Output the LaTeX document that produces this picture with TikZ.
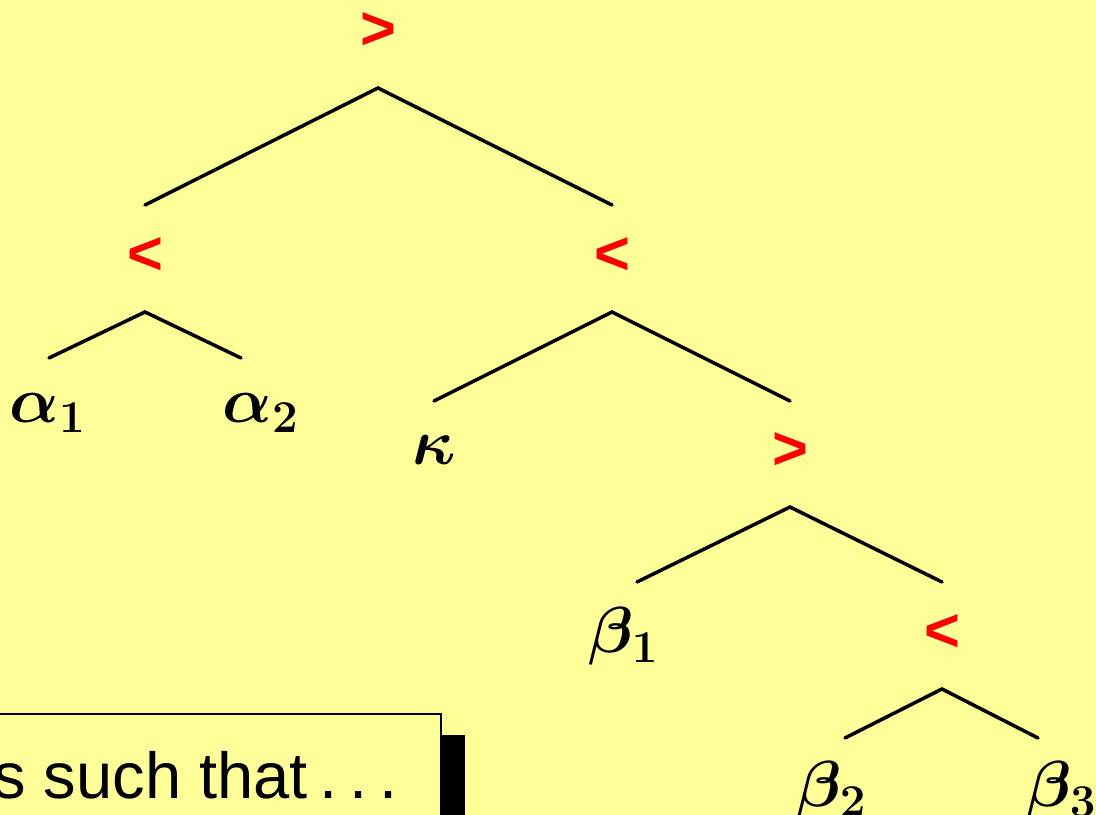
\documentclass[tikz,border=0pt]{standalone}
\usepackage{fix-cm}
\usepackage[no-math]{fontspec}
\setmainfont{Liberation Sans}
\usepackage{amsmath}
\usetikzlibrary{positioning}
\definecolor{SlideYellow}{HTML}{FFFF99}
\definecolor{OpRed}{HTML}{FF0000}

\begin{document}
\begin{tikzpicture}[
    x=0.01cm, y=-0.01cm,
    op/.style={
      text=OpRed,
      font=\fontsize{17.5}{20}\selectfont\bfseries,
      inner sep=0pt
    },
    leaf/.style={
      font=\fontsize{18.5}{22}\selectfont\boldmath,
      inner sep=0pt
    },
    branch/.style={
      line width=1pt,
      line cap=round
    }
  ]

  % Slide background
  \fill[SlideYellow] (0,0) rectangle (1096,815);
  \useasboundingbox (0,0) rectangle (1096,815);
  \clip (0,0) rectangle (1096,815);

  % Comparison operators
  \node[op] (root)  at (378,31)  {>};
  \node[op] (left)  at (145,256) {<};
  \node[op] (right) at (612,256) {<};
  \node[op] (mid)   at (790,451) {>};
  \node[op] (low)   at (942,633) {<};

  % Apexes below the operators
  \coordinate (rootT)  at (378,88);
  \coordinate (leftT)  at (145,312);
  \coordinate (rightT) at (612,312);
  \coordinate (midT)   at (790,507);
  \coordinate (lowT)   at (942,689);

  % Branch ends above the children
  \coordinate (rootL)  at (145,205);
  \coordinate (rootR)  at (612,205);
  \coordinate (leftL)  at (49,358);
  \coordinate (leftR)  at (241,358);
  \coordinate (rightL) at (434,401);
  \coordinate (rightR) at (790,401);
  \coordinate (midL)   at (637,582);
  \coordinate (midR)   at (942,582);
  \coordinate (lowL)   at (845,738);
  \coordinate (lowR)   at (1038,738);

  % Leaves
  \node[leaf] (a1)  at (48,413)   {$\alpha_{\mathbf{1}}$};
  \node[leaf] (a2)  at (261,413)  {$\alpha_{\mathbf{2}}$};
  \node[leaf] (kap) at (434,450)  {$\kappa$};
  \node[leaf] (b1)  at (624,636)  {$\beta_{\mathbf{1}}$};
  \node[leaf] (b2)  at (832,790)  {$\beta_{\mathbf{2}}$};
  \node[leaf] (b3)  at (1062,790) {$\beta_{\mathbf{3}}$};

  % Branches
  \draw[branch] (rootL) -- (rootT) -- (rootR);
  \draw[branch] (leftL) -- (leftT) -- (leftR);
  \draw[branch] (rightL) -- (rightT) -- (rightR);
  \draw[branch] (midL) -- (midT) -- (midR);
  \draw[branch] (lowL) -- (lowT) -- (lowR);

  % Caption box with shadow
  \fill[black] (0,735) rectangle (465,840);
  \filldraw[fill=SlideYellow, draw=black, line width=0.6pt]
    (-20,714) rectangle (441,840);
  \node[anchor=base east, inner sep=0pt,
        font=\fontsize{18.5}{22}\selectfont] (claim) at (398,798)
    {s such that\kern.18em.\kern.18em.\kern.18em.};

\end{tikzpicture}
\end{document}
